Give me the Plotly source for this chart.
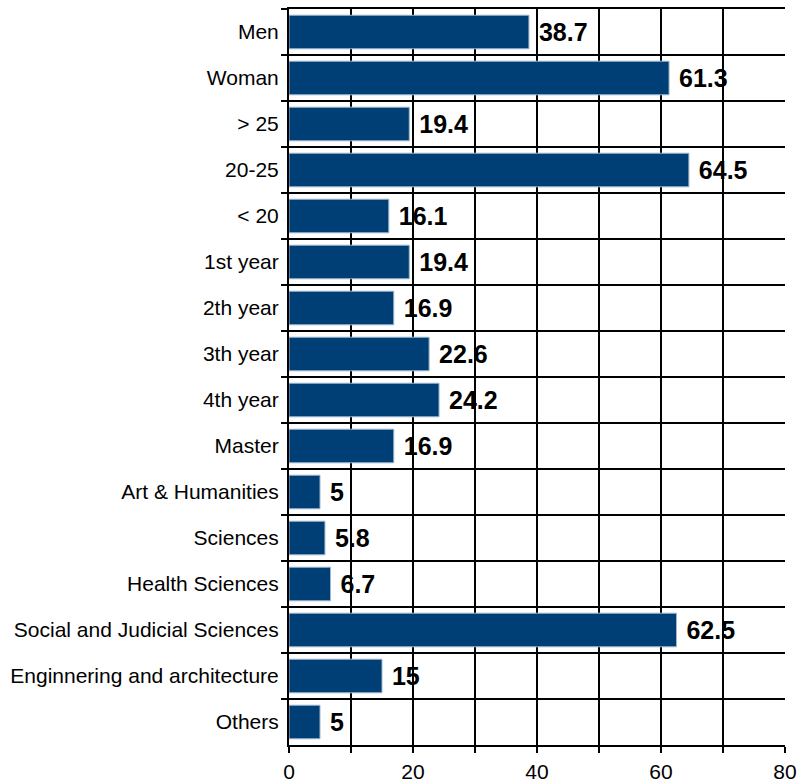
import plotly.graph_objects as go

categories = ["Men", "Woman", "> 25", "20-25", "< 20", "1st year", "2th year", "3th year",
              "4th year", "Master", "Art & Humanities", "Sciences", "Health Sciences",
              "Social and Judicial Sciences", "Enginnering and architecture", "Others"]
values = [38.7, 61.3, 19.4, 64.5, 16.1, 19.4, 16.9, 22.6, 24.2, 16.9, 5, 5.8, 6.7, 62.5, 15, 5]
labels = ["38.7", "61.3", "19.4", "64.5", "16.1", "19.4", "16.9", "22.6", "24.2", "16.9",
          "5", "5.8", "6.7", "62.5", "15", "5"]
x_ticks = [0, 10, 20, 30, 40, 50, 60, 70, 80]
x_ticktext = ["0", "", "20", "", "40", "", "60", "", "80"]

fig = go.Figure(go.Bar(
    x=values, y=categories, orientation="h",
    marker=dict(color="#003f75", line=dict(color="#9fb6cc", width=1)),
    width=0.73,
    text=labels, texttemplate=" %{text}", textposition="outside", cliponaxis=False,
    textfont=dict(family="Liberation Sans, Arial", size=25, color="black", weight="bold"),
))

fig.update_layout(
    width=799, height=782,
    margin=dict(l=289, r=14, t=9, b=37),
    plot_bgcolor="white", paper_bgcolor="white",
    font=dict(family="Liberation Sans, Arial", size=21, color="black"),
    showlegend=False,
    uniformtext=dict(mode=False),
)
fig.update_xaxes(
    range=[0, 80], tickvals=x_ticks, ticktext=x_ticktext,
    showgrid=True, gridcolor="black", gridwidth=2,
    ticks="outside", ticklen=6, tickwidth=2, tickcolor="black",
    showline=True, linecolor="black", linewidth=2, mirror=True,
    zeroline=False, tickfont=dict(size=21), ticklabelstandoff=1,
    automargin=False,
)
fig.update_yaxes(
    autorange="reversed", tickson="boundaries",
    showgrid=True, gridcolor="black", gridwidth=2,
    ticks="outside", ticklen=6, tickwidth=2, tickcolor="black",
    showline=True, linecolor="black", linewidth=2,
    tickfont=dict(size=21), ticklabelstandoff=4,
    automargin=False,
)
fig.write_html("out.html")
